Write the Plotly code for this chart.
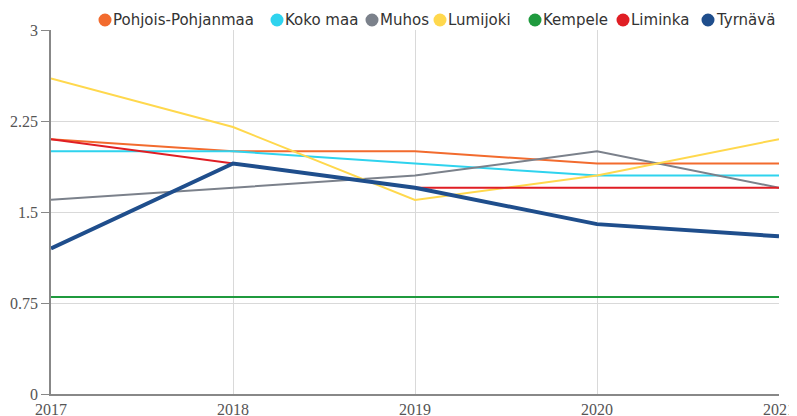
import plotly.graph_objects as go

years = [2017, 2018, 2019, 2020, 2021]
series_names = ["Pohjois-Pohjanmaa", "Koko maa", "Muhos", "Lumijoki", "Kempele", "Liminka", "Tyrnävä"]
pohjois_pohjanmaa = [2.1, 2.0, 2.0, 1.9, 1.9]
koko_maa = [2.0, 2.0, 1.9, 1.8, 1.8]
muhos = [1.6, 1.7, 1.8, 2.0, 1.7]
lumijoki = [2.6, 2.2, 1.6, 1.8, 2.1]
kempele = [0.8, 0.8, 0.8, 0.8, 0.8]
liminka = [2.1, 1.9, 1.7, 1.7, 1.7]
tyrnava = [1.2, 1.9, 1.7, 1.4, 1.3]
y_ticks = [0, 0.75, 1.5, 2.25, 3]
y_tick_labels = ["0", "0.75", "1.5", "2.25", "3"]

values = [pohjois_pohjanmaa, koko_maa, muhos, lumijoki, kempele, liminka, tyrnava]
colors = ["#f26b2e", "#2fd3ee", "#7b818b", "#ffd84d", "#1f9a3e", "#e01e24", "#1f4e8c"]
widths = [2, 2, 2, 2, 2, 2, 4]

# layout: the page has an 8px body margin, so the figure is sized to fit
W, H = 789, 408
ML, MR, MT, MB = 43, 18, 22, 22
PW = W - ML - MR
PH = H - MT - MB

fig = go.Figure()
for name, vals, c, w in zip(series_names, values, colors, widths):
    fig.add_trace(go.Scatter(x=years, y=vals, name=name, mode="lines", showlegend=False,
                             line=dict(color=c, width=w)))

# custom compact legend (circle + label), positions in page pixels
legend_circle_x = [105, 277, 372, 440, 535, 623, 708]
legend_y_page = 20
off = 8
def px_to_paper_x(px):
    return (px - off - ML) / PW
def px_to_paper_y(py):
    return (H - MB - (py - off)) / PH

for name, c, cx in zip(series_names, colors, legend_circle_x):
    fig.add_shape(type="circle", xref="paper", yref="paper", xsizemode="pixel", ysizemode="pixel",
                  xanchor=px_to_paper_x(cx), yanchor=px_to_paper_y(legend_y_page),
                  x0=-6.5, x1=6.5, y0=-6.5, y1=6.5, fillcolor=c, line=dict(width=0))
    fig.add_annotation(text=name, xref="paper", yref="paper", x=px_to_paper_x(cx + 6),
                       y=px_to_paper_y(legend_y_page), xanchor="left", yanchor="middle",
                       showarrow=False, font=dict(family="DejaVu Sans, sans-serif", size=15, color="#333"))

fig.update_layout(
    width=W, height=H,
    margin=dict(l=ML, r=MR, t=MT, b=MB, autoexpand=False),
    plot_bgcolor="white", paper_bgcolor="white",
    showlegend=False,
)
fig.update_xaxes(range=[2017, 2021], tickvals=years, showgrid=True, gridcolor="#d9d9d9",
                 showline=True, linecolor="#888", linewidth=1.5, ticks="", ticklen=0,
                 tickfont=dict(family="Liberation Serif, serif", size=16, color="#555"),
                 zeroline=False)
fig.update_yaxes(range=[0, 3], tickvals=y_ticks, ticktext=y_tick_labels,
                 showgrid=True, gridcolor="#d9d9d9", showline=True, linecolor="#888", linewidth=1.5,
                 ticks="outside", ticklen=8, tickcolor="#888",
                 tickfont=dict(family="Liberation Serif, serif", size=16, color="#555"), zeroline=False)

fig.write_html("out.html")
